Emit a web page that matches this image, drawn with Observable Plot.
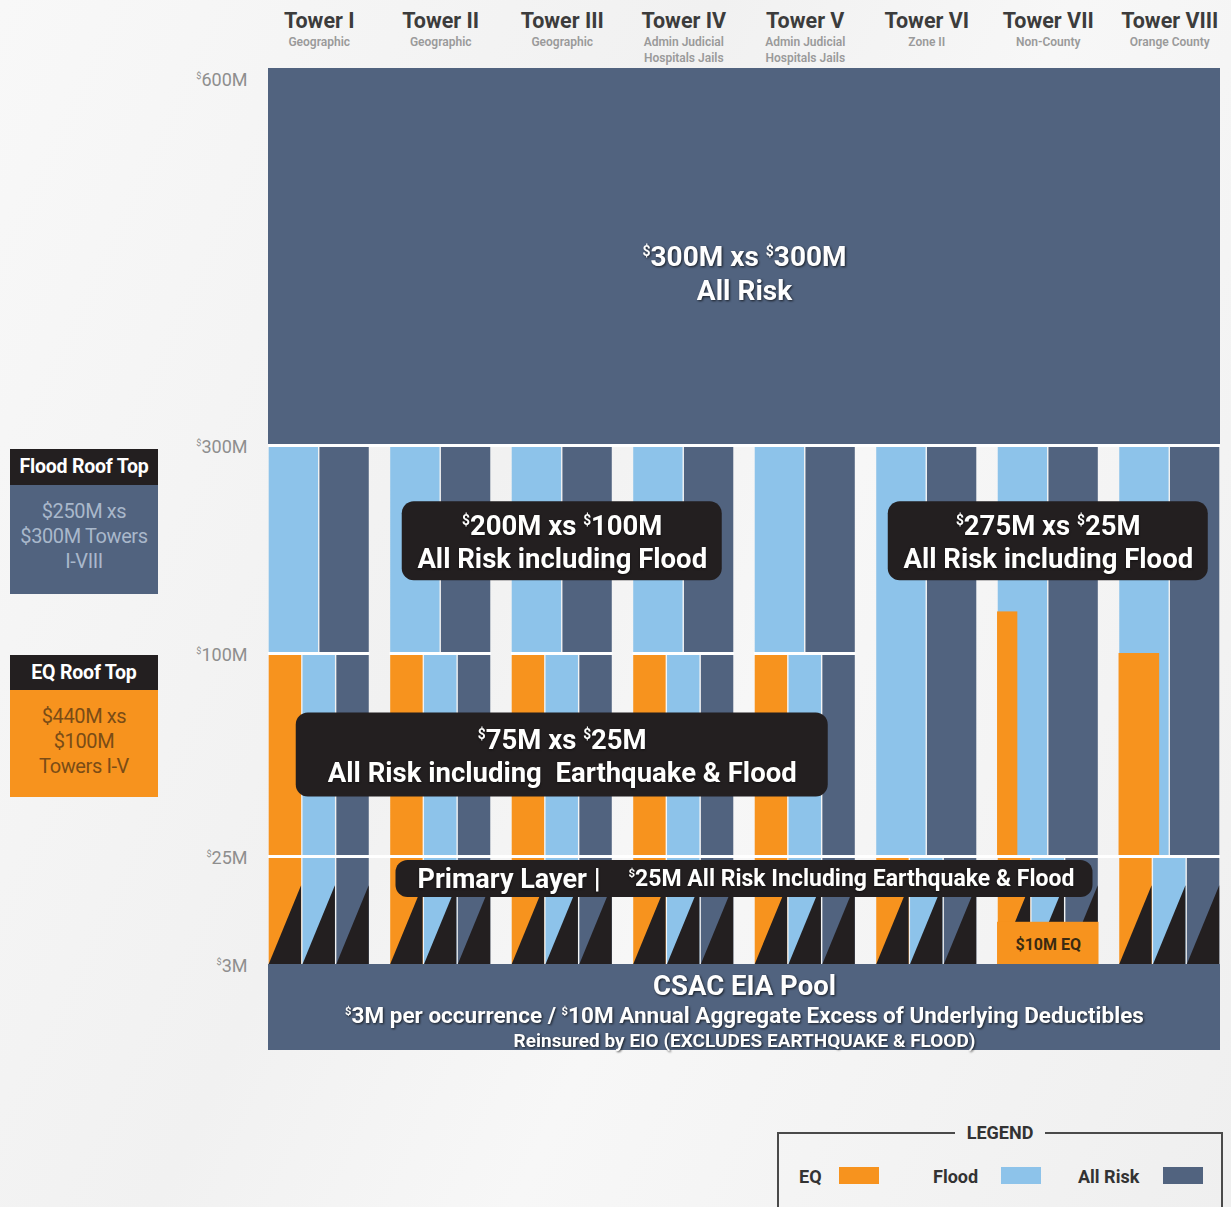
<!DOCTYPE html>
<html>
<head>
<meta charset="utf-8">
<script src="https://cdn.jsdelivr.net/npm/d3@7"></script>
<script src="https://cdn.jsdelivr.net/npm/@observablehq/plot@0.6"></script>
<style>
  html, body { margin: 0; padding: 0; background: #f6f6f6; overflow: hidden; }
  #wrap { position: relative; width: 1231px; height: 1207px; overflow: hidden;
    font-family: Roboto, "Noto Sans", sans-serif;
    background: linear-gradient(115deg, #f8f8f8 0%, #f1f1f1 40%, #f7f7f7 60%, #efefef 100%); }
  #wrap svg { position: absolute; left: 0; top: 0; }
  g[fill="#fefefe"] text { filter: drop-shadow(1px 1.5px 1.2px rgba(0,0,0,0.7)); }
  g[fill="#fffffe"] text { filter: drop-shadow(0.5px 1px 1px rgba(0,0,0,0.5)); }
  .roof { position: absolute; left: 10px; width: 148px; text-align: center; }
  .roof .hd { background: #231f20; color: #fff; font-weight: 700; font-size: 19.5px; letter-spacing: -0.2px; }
  .roof .bd { font-size: 20px; line-height: 25px; box-sizing: border-box; letter-spacing: -0.4px; }
  fieldset.legend { position: absolute; left: 777px; top: 1122px; width: 446px; height: 120px;
    margin: 0; padding: 0; border: 2px solid #4a4a4a; box-sizing: border-box; }
  fieldset.legend legend { margin: 0 auto; padding: 0 12px; font-weight: 700; font-size: 18px; color: #333; }
  .li { position: absolute; top: 23px; font-weight: 700; font-size: 18px; color: #333; }
  .sw { position: absolute; top: 24px; width: 40px; height: 17px; }
</style>
</head>
<body>
<div id="wrap"></div>
<script>
// ---------- DATA ----------
const towers = ["Tower I", "Tower II", "Tower III", "Tower IV", "Tower V", "Tower VI", "Tower VII", "Tower VIII"];
const towerNotes = ["Geographic", "Geographic", "Geographic", "Admin Judicial\nHospitals Jails",
  "Admin Judicial\nHospitals Jails", "Zone II", "Non-County", "Orange County"];
const perils = ["EQ", "Flood", "All Risk"];
const perilColors = ["#f7931e", "#8dc3ea", "#51637f"];
const yBreaks = [0, 3, 25, 100, 300, 600];      // layer attachment points ($M)
const yTicks = [3, 25, 100, 300, 600];
const poolTop = 3, primaryTop = 25, floodTop = 300, excessTop = 600;
// attachment of the "All Risk including Flood" layer per tower
const floodAttach = [100, 100, 100, 100, 100, 25, 25, 25];
// top of EQ coverage above the primary layer, per tower
const eqTop = [100, 100, 100, 100, 100, null, 140, 100];
// Tower VII $10M EQ sublayer in the primary
const eqPrimary = {tower: "Tower VII", from: 3, to: 11.6, label: "$10M EQ"};
// annotation labels (anchor tower, anchor value)
const excessLabel = {text: "^$300M xs ^$300M\nAll Risk", at: 438};
const boxLabels = [
  {tower: "Tower III", at: 208, text: "^$200M xs ^$100M\nAll Risk including Flood"},
  {tower: "Tower VII", at: 208, text: "^$275M xs ^$25M\nAll Risk including Flood"},
  {tower: "Tower III", at: 62.5, text: "^$75M xs ^$25M\nAll Risk including  Earthquake & Flood"}
];
const primaryLabel = {at: 20.4, a: "Primary Layer |", b: "^$25M All Risk Including Earthquake & Flood"};
const poolLines = ["CSAC EIA Pool",
  "^$3M per occurrence / ^$10M Annual Aggregate Excess of Underlying Deductibles",
  "Reinsured by EIO (EXCLUDES EARTHQUAKE & FLOOD)"];
const roofs = [
  {title: "Flood Roof Top", lines: ["$250M xs", "$300M Towers", "I-VIII"], at: 300},
  {title: "EQ Roof Top", lines: ["$440M xs", "$100M", "Towers I-V"], at: 100}
];

// ---------- LAYOUT (styles) ----------
const bandFrac = 0.835;                       // bar width / tower pitch
const layerPx = [86, 108, 203, 208, 377];     // pixel height of each layer band
const eqOverlayFrac = [0, 0, 0, 0, 0, 0, 0.2, 0.4];
const triApex = 0.73;
const dark = "#231f20";
const W = towers.length - 1 + bandFrac;
const width = 1231, height = 1207, mT = 68, mB = 157, mL = 268, mR = 11;
const yRange = [height - mB];
layerPx.forEach(h => yRange.push(yRange[yRange.length - 1] - h));

// ---------- derived tables ----------
const cells = [], tris = [], splits = [];
towers.forEach((t, i) => {
  const x0 = i, bw = bandFrac;
  perils.forEach((p, k) => {
    const a = x0 + bw * k / 3, b = x0 + bw * (k + 1) / 3;
    cells.push({peril: p, x1: a, x2: b, y1: poolTop, y2: primaryTop});
    const id = i + "-" + k;
    tris.push({id, x: a + 0.006, y1: poolTop, y2: poolTop},
              {id, x: b - 0.006, y1: poolTop, y2: poolTop + triApex * (primaryTop - poolTop)});
  });
  if (floodAttach[i] > primaryTop) {
    perils.forEach((p, k) => cells.push({peril: p, x1: x0 + bw * k / 3, x2: x0 + bw * (k + 1) / 3,
      y1: primaryTop, y2: eqTop[i]}));
    splits.push({i, y: floodAttach[i]});
  }
  ["Flood", "All Risk"].forEach((p, k) => cells.push({peril: p, x1: x0 + bw * k / 2, x2: x0 + bw * (k + 1) / 2,
    y1: floodAttach[i], y2: floodTop}));
});
const overlays = towers.map((t, i) => ({i, top: eqTop[i]}))
  .filter(d => floodAttach[d.i] === primaryTop && d.top != null)
  .map(d => ({peril: "EQ", x1: d.i, x2: d.i + bandFrac * eqOverlayFrac[d.i], y1: primaryTop, y2: d.top}));
const towerCenter = name => towers.indexOf(name) + bandFrac / 2;

function labelBox(d, hw, hh) {
  return Plot.rect([d], {x1: d.x, x2: d.x, y1: d.y, y2: d.y, insetLeft: -hw, insetRight: -hw,
    insetTop: -hh, insetBottom: -hh, rx: 12, fill: dark});
}

const chart = Plot.plot({
  width, height, marginTop: mT, marginBottom: mB, marginLeft: mL, marginRight: mR,
  style: {background: "transparent", fontFamily: "Roboto, 'Noto Sans', sans-serif"},
  x: {type: "linear", domain: [0, W], axis: null},
  y: {type: "linear", domain: yBreaks, range: yRange, axis: null},
  color: {domain: perils, range: perilColors},
  marks: [
    // pool + excess layer
    Plot.rect([{y1: 0, y2: poolTop}], {x1: 0, x2: W, y1: "y1", y2: "y2", fill: perilColors[2]}),
    Plot.rect([{y1: floodTop, y2: excessTop}], {x1: 0, x2: W, y1: "y1", y2: "y2", fill: perilColors[2]}),
    // tower cells
    Plot.rect(cells, {x1: "x1", x2: "x2", y1: "y1", y2: "y2", fill: "peril", insetLeft: 0.7, insetRight: 0.7}),
    Plot.rect(overlays, {x1: "x1", x2: "x2", y1: "y1", y2: "y2", fill: "peril"}),
    // primary layer triangles
    Plot.areaY(tris, {x: "x", y1: "y1", y2: "y2", z: "id", fill: dark, curve: "linear"}),
    // $10M EQ box
    Plot.rect([eqPrimary], {x1: d => towers.indexOf(d.tower), x2: d => towers.indexOf(d.tower) + bandFrac,
      y1: "from", y2: "to", fill: perilColors[0]}),
    Plot.text([eqPrimary], {x: d => towerCenter(d.tower), y: d => (d.from + d.to) / 2, text: "label",
      fontSize: 16, fontWeight: 700, fill: "#3a2a12", dy: 1}),
    // white separators
    Plot.ruleY([floodTop, primaryTop], {x1: 0, x2: W, stroke: "white", strokeWidth: 3}),
    Plot.ruleY(splits, {y: "y", x1: d => d.i, x2: d => d.i + bandFrac, stroke: "white", strokeWidth: 3}),
    // y labels
    Plot.text(yTicks.filter(v => v < excessTop), {y: d => d, text: d => "^$" + d + "M", frameAnchor: "left",
      textAnchor: "end", dx: -21, dy: 2, fontSize: 18, fill: "#8e8e8e"}),
    Plot.text([excessTop], {y: d => d, text: d => "^$" + d + "M", frameAnchor: "left",
      textAnchor: "end", dx: -21, dy: 12, fontSize: 18, fill: "#8e8e8e"}),
    // tower headers
    Plot.text(towers, {x: (d, i) => i + bandFrac / 2, text: d => d, frameAnchor: "top", dy: -56,
      fontSize: 21.5, fontWeight: 700, fill: "#3c3c3c"}),
    Plot.text(towerNotes, {x: (d, i) => i + bandFrac / 2, text: d => d, frameAnchor: "top", lineAnchor: "top",
      dy: -34, fontSize: 12, lineHeight: 1.35, fontWeight: 600, fill: "#9a9a9a"}),
    // excess label
    Plot.text([excessLabel], {x: W / 2, y: "at", text: "text", fontSize: 28, fontWeight: 700,
      lineHeight: 1.22, fill: "#fefefe"}),
    // label boxes
    labelBox({x: towerCenter(boxLabels[0].tower), y: boxLabels[0].at}, 160, 39.5),
    labelBox({x: towerCenter(boxLabels[1].tower), y: boxLabels[1].at}, 160, 39.5),
    labelBox({x: towerCenter(boxLabels[2].tower), y: boxLabels[2].at}, 266, 42),
    Plot.text(boxLabels, {x: d => towerCenter(d.tower), y: "at", text: "text", fontSize: 27.5,
      fontWeight: 700, lineHeight: 1.2, fill: "#fffffe"}),
    // primary label
    labelBox({x: W / 2, y: primaryLabel.at}, 348.5, 18.5),
    Plot.text([primaryLabel], {x: W / 2, y: "at", text: "a", textAnchor: "start", dx: -327,
      fontSize: 27, fontWeight: 700, fill: "#fffffe"}),
    Plot.text([primaryLabel], {x: W / 2, y: "at", text: "b", textAnchor: "start", dx: -116,
      fontSize: 23, fontWeight: 700, fill: "#fffffe"}),
    // pool text
    Plot.text([poolLines[0]], {x: W / 2, y: poolTop / 2, text: d => d, dy: -21, fontSize: 27.5,
      fontWeight: 700, fill: "#fefefe"}),
    Plot.text([poolLines[1]], {x: W / 2, y: poolTop / 2, text: d => d, dy: 8, fontSize: 22.5,
      fontWeight: 700, fill: "#fefefe"}),
    Plot.text([poolLines[2]], {x: W / 2, y: poolTop / 2, text: d => d, dy: 33, fontSize: 19,
      fontWeight: 700, fill: "#fefefe"})
  ]
});

// superscript dollar signs marked "^$"
(function superscript(svg) {
  const ns = "http://www.w3.org/2000/svg";
  const walker = document.createTreeWalker(svg, NodeFilter.SHOW_TEXT);
  const nodes = [];
  while (walker.nextNode()) if (walker.currentNode.nodeValue.includes("^$")) nodes.push(walker.currentNode);
  for (const n of nodes) {
    const parts = n.nodeValue.split("^$");
    const frag = document.createDocumentFragment();
    parts.forEach((p, i) => {
      if (i > 0) {
        const s = document.createElementNS(ns, "tspan");
        s.setAttribute("font-size", "0.5em");
        s.setAttribute("baseline-shift", "0.75em");
        s.textContent = "$";
        frag.appendChild(s);
      }
      if (p) frag.appendChild(document.createTextNode(p));
    });
    n.parentNode.replaceChild(frag, n);
  }
})(chart);

const wrap = document.getElementById("wrap");
wrap.appendChild(chart);

// roof-top side boxes, aligned with the y scale
const ys = chart.scale("y");
const roofStyles = [
  {top: 4, hd: 36, body: 109, bg: perilColors[2], color: "#a9b8cb", pad: 14},
  {top: 2, hd: 35, body: 107, bg: perilColors[0], color: "#7a4c16", pad: 14}
];
roofs.forEach((r, k) => {
  const s = roofStyles[k];
  const el = document.createElement("div");
  el.className = "roof";
  el.style.top = (ys.apply(r.at) + s.top) + "px";
  const hd = document.createElement("div");
  hd.className = "hd"; hd.textContent = r.title;
  hd.style.height = s.hd + "px"; hd.style.lineHeight = s.hd + "px";
  const bd = document.createElement("div");
  bd.className = "bd"; bd.style.height = s.body + "px"; bd.style.background = s.bg;
  bd.style.color = s.color; bd.style.paddingTop = s.pad + "px";
  bd.innerHTML = r.lines.join("<br>");
  el.append(hd, bd);
  wrap.appendChild(el);
});

// legend
const fs = document.createElement("fieldset");
fs.className = "legend";
const lg = document.createElement("legend");
lg.textContent = "LEGEND";
fs.appendChild(lg);
const legendPos = [[20, 60], [154, 222], [299, 384]];
perils.forEach((p, k) => {
  const t = document.createElement("span");
  t.className = "li"; t.textContent = p; t.style.left = legendPos[k][0] + "px";
  const sw = document.createElement("span");
  sw.className = "sw"; sw.style.left = legendPos[k][1] + "px"; sw.style.background = perilColors[k];
  fs.append(t, sw);
});
wrap.appendChild(fs);
</script>
</body>
</html>
